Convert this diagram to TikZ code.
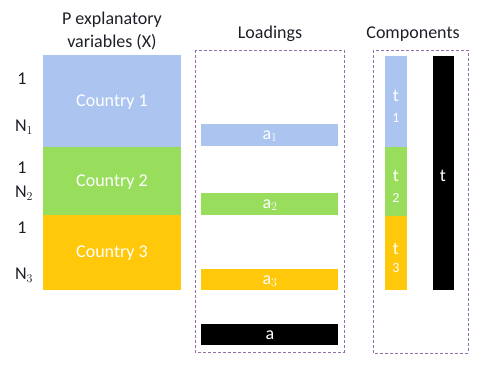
\documentclass[tikz,border=0pt]{standalone}
\usepackage{fontspec}
\setmainfont{Carlito}
\definecolor{cblue}{RGB}{172,196,240}
\definecolor{cgreen}{RGB}{152,222,92}
\definecolor{cyellow}{RGB}{255,200,10}
\definecolor{frame}{RGB}{150,110,170}
\definecolor{ink}{RGB}{30,30,40}
\begin{document}
\begin{tikzpicture}[x=1pt,y=-1pt,
  lbl/.style={font=\fontsize{18}{23}\selectfont, text=ink, inner sep=0pt},
  white lbl/.style={font=\fontsize{18}{22}\selectfont, text=white, inner sep=0pt},
  small white/.style={font=\fontsize{14}{16}\selectfont, text=white, inner sep=0pt},
  panel/.style={draw=frame, dashed, dash pattern=on 3pt off 2pt, line width=0.6pt}]
\useasboundingbox (0,0) rectangle (478,365);

% column titles
\node[lbl, align=center] (ttlX) at (112,31) {P explanatory\\variables (X)};
\node[lbl] (ttlA) at (270,34) {Loadings};
\node[lbl] (ttlT) at (413,34) {Components};

% data matrix, one block per country
\fill[cblue]   (43,55)  rectangle (181,147);
\fill[cgreen]  (43,147) rectangle (181,215);
\fill[cyellow] (43,215) rectangle (181,290);
\node[white lbl] (c1) at (112,102) {Country 1};
\node[white lbl] (c2) at (112,182) {Country 2};
\node[white lbl] (c3) at (112,253) {Country 3};

% row indices
\node[lbl] (r1a) at (22,79)  {1};
\node[lbl] (r1b) at (24,127) {N$_1$};
\node[lbl] (r2a) at (22,168) {1};
\node[lbl] (r2b) at (24,193) {N$_2$};
\node[lbl] (r3a) at (22,228) {1};
\node[lbl] (r3b) at (24,275) {N$_3$};

% loadings panel
\draw[panel] (195,50) rectangle (344,352);
\fill[cblue]   (201,124) rectangle (338,146);
\fill[cgreen]  (201,193) rectangle (338,215);
\fill[cyellow] (201,269) rectangle (338,290);
\fill[black]   (201,324) rectangle (338,345);
\node[white lbl] (a1) at (270,136) {a$_1$};
\node[white lbl] (a2) at (270,205) {a$_2$};
\node[white lbl] (a3) at (270,281) {a$_3$};
\node[white lbl] (a)  at (270,335) {a};

% components panel
\draw[panel] (373,50) rectangle (468,353);
\fill[cblue]   (385,56)  rectangle (407,147);
\fill[cgreen]  (385,147) rectangle (407,216);
\fill[cyellow] (385,216) rectangle (407,290);
\fill[black]   (433,56)  rectangle (454,290);
\node[white lbl] (t1) at (396,96)  {t};
\node[small white] (t1s) at (396,118) {1};
\node[white lbl] (t2) at (396,176) {t};
\node[small white] (t2s) at (396,198) {2};
\node[white lbl] (t3) at (396,249) {t};
\node[small white] (t3s) at (396,268) {3};
\node[white lbl] (t)  at (443,176) {t};
\end{tikzpicture}
\end{document}
